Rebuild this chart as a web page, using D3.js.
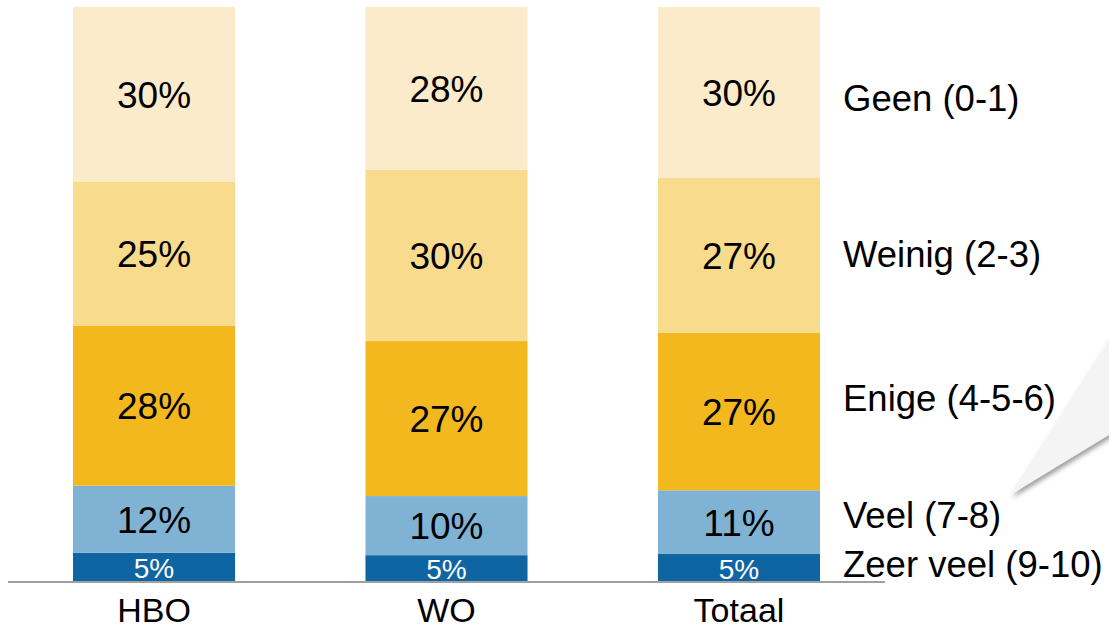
<!DOCTYPE html>
<html>
<head>
<meta charset="utf-8">
<title>Stacked bars</title>
<script src="https://cdn.jsdelivr.net/npm/d3@7"></script>
<style>
  body { margin: 0; background: #fff; }
  svg text { font-family: "Liberation Sans", Arial, sans-serif; }
</style>
</head>
<body>
<svg id="chart" width="1109" height="628"></svg>
<script>
// data, bottom to top
var categories = ["HBO", "WO", "Totaal"];
var seriesNames = ["Zeer veel (9-10)", "Veel (7-8)", "Enige (4-5-6)", "Weinig (2-3)", "Geen (0-1)"];
var zeerVeel = [4.9, 4.5, 4.7];
var veel     = [11.7, 10.3, 11.1];
var enige    = [27.9, 27.0, 27.4];
var weinig   = [25.1, 29.8, 27.0];
var geen     = [30.4, 28.4, 29.8];
var colors = ["#0f64a2", "#80b3d3", "#f2b81d", "#f8db8d", "#fbebca"];
// small vertical shifts of the series names (pixels)
var legendNudge = [-4, -7, -14, -2, 5];

var svg = d3.select("#chart");

var table = categories.map(function (c, i) {
  return { cat: c, s0: zeerVeel[i], s1: veel[i], s2: enige[i], s3: weinig[i], s4: geen[i] };
});
var keys = ["s0", "s1", "s2", "s3", "s4"];
var series = d3.stack().keys(keys)(table);

var x = d3.scaleBand()
  .domain(categories)
  .range([73, 820])
  .paddingInner(0.446)
  .paddingOuter(0);
var y = d3.scaleLinear().domain([0, 100]).range([581, 7]);

// callout pointer on the right
var defs = svg.append("defs");
var f = defs.append("filter").attr("id", "shadow")
  .attr("x", "-20%").attr("y", "-20%").attr("width", "150%").attr("height", "150%");
f.append("feDropShadow").attr("dx", 2).attr("dy", 3).attr("stdDeviation", 2.5)
  .attr("flood-color", "#000").attr("flood-opacity", 0.4);
svg.append("path")
  .attr("d", "M1010,495 L1120,322 L1120,428 Z")
  .attr("fill", "#f4f4f4")
  .attr("filter", "url(#shadow)");

var groups = svg.append("g").selectAll("g")
  .data(series)
  .enter().append("g")
  .attr("fill", function (d, i) { return colors[i]; });

groups.selectAll("rect")
  .data(function (d) { return d; })
  .enter().append("rect")
  .attr("x", function (d) { return x(d.data.cat); })
  .attr("y", function (d) { return y(d[1]); })
  .attr("width", x.bandwidth())
  .attr("height", function (d) { return y(d[0]) - y(d[1]); });

// value labels
groups.each(function (s, si) {
  d3.select(this).selectAll("text")
    .data(s)
    .enter().append("text")
    .attr("x", function (d) { return x(d.data.cat) + x.bandwidth() / 2; })
    .attr("y", function (d) { return (y(d[0]) + y(d[1])) / 2; })
    .attr("dy", si === 0 ? "0.4em" : "0.37em")
    .attr("text-anchor", "middle")
    .attr("font-size", si === 0 ? "28px" : "37px")
    .attr("fill", si === 0 ? "#fff" : "#000")
    .text(function (d) { return Math.round(d[1] - d[0]) + "%"; });
});

// baseline
svg.append("line")
  .attr("x1", 8).attr("x2", 885)
  .attr("y1", 582).attr("y2", 582)
  .attr("stroke", "#a0a0a0").attr("stroke-width", 2);

// category labels
var xAxis = d3.axisBottom(x).tickSize(0).tickPadding(0);
var gx = svg.append("g").attr("transform", "translate(0,582)").call(xAxis);
gx.select(".domain").remove();
gx.selectAll("text")
  .attr("font-size", "34px")
  .attr("fill", "#000")
  .attr("dy", null)
  .attr("y", 40);

// series names beside the last bar
var last = categories.length - 1;
svg.append("g").selectAll("text")
  .data(series)
  .enter().append("text")
  .attr("x", 843)
  .attr("y", function (d, i) { return (y(d[last][0]) + y(d[last][1])) / 2 + legendNudge[i]; })
  .attr("dy", "0.36em")
  .attr("font-size", "36.5px")
  .attr("fill", "#000")
  .text(function (d, i) { return seriesNames[i]; });
</script>
</body>
</html>
